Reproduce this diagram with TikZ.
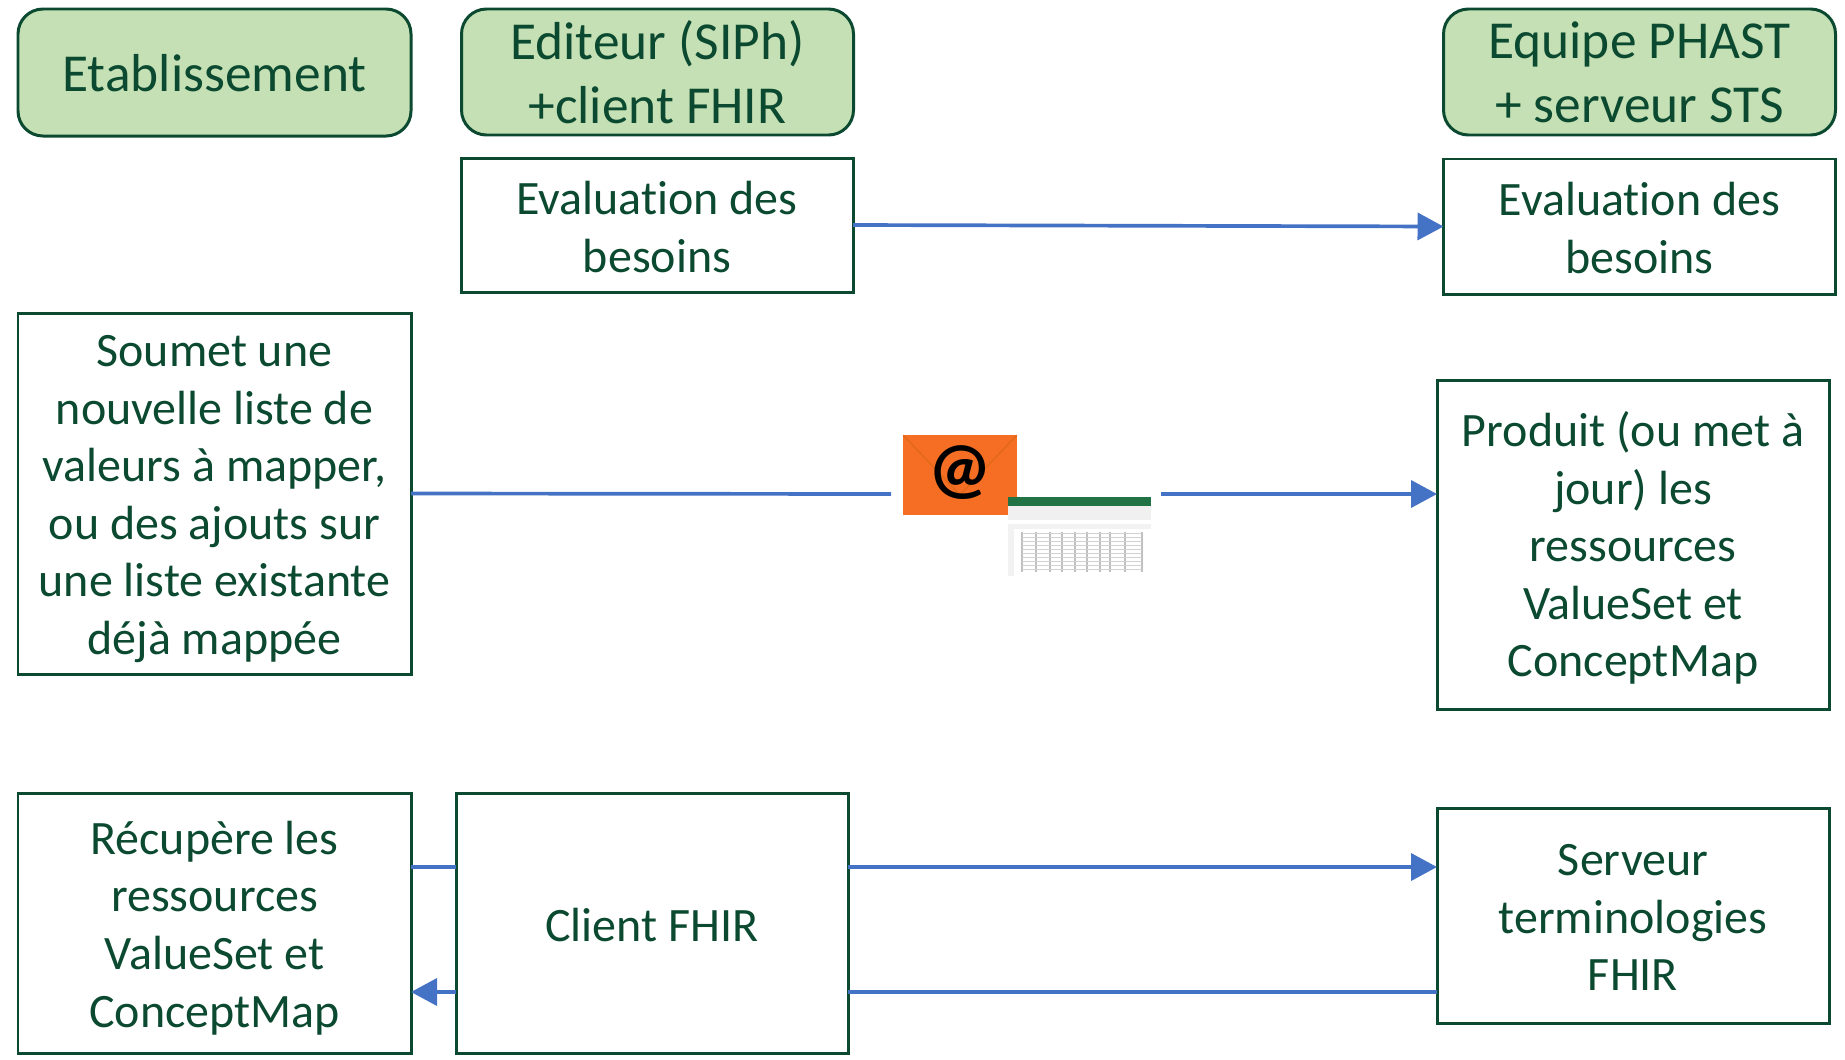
\documentclass[tikz,border=0pt]{standalone}
\usepackage{fontspec}
\setmainfont{Carlito}[Ligatures=NoCommon]
\usetikzlibrary{arrows.meta}
\definecolor{darkgreen}{HTML}{0B4A30}
\definecolor{lightgreen}{HTML}{C5E0B4}
\definecolor{flowblue}{HTML}{4472C4}
\definecolor{mailorange}{HTML}{F56E23}
\definecolor{sheetgreen}{HTML}{217346}
\tikzset{
  box/.style={draw=darkgreen, line width=0.85pt, fill=white, text=darkgreen, align=center, inner sep=0pt, outer sep=0pt,
    font=\fontsize{13.65}{16.4}\selectfont},
  headbox/.style={box, fill=lightgreen, rounded corners=0.25cm, font=\fontsize{15.2}{18.2}\selectfont},
  flow/.style={color=flowblue, line width=1.05pt},
  flowtip/.style={flow, -{Triangle[length=0.26cm,width=0.27cm]}}
}
\newcommand{\lift}[1]{\rule{0pt}{#1}}

\begin{document}
\begin{tikzpicture}
\useasboundingbox (0,0) rectangle (18.45,-10.59);

\node[headbox, minimum width=3.93cm, minimum height=1.27cm] (etab) at (2.145,-0.725) {\lift{10.7pt}Etablissement};
\node[headbox, minimum width=3.92cm, minimum height=1.26cm] (editeur) at (6.575,-0.72) {\lift{10.9pt}Editeur (SIPh)\\+client FHIR};
\node[headbox, minimum width=3.92cm, minimum height=1.26cm] (equipe) at (16.395,-0.72) {\lift{10.7pt}Equipe PHAST\\+ serveur STS};

\node[box, minimum width=3.92cm, minimum height=1.34cm] (evalL) at (6.57,-2.25) {\lift{10.8pt}Evaluation des\\besoins};
\node[box, minimum width=3.92cm, minimum height=1.35cm] (evalR) at (16.395,-2.265) {\lift{10.3pt}Evaluation des\\besoins};

\node[box, minimum width=3.93cm, minimum height=3.61cm] (soumet) at (2.145,-4.935) {\lift{12pt}Soumet une\\nouvelle liste de\\valeurs à mapper,\\ou des ajouts sur\\une liste existante\\déjà mappée};
\node[box, minimum width=3.92cm, minimum height=3.29cm] (produit) at (16.33,-5.45) {\lift{11.7pt}Produit (ou met à\\jour) les\\ressources\\ValueSet et\\ConceptMap};

\node[box, minimum width=3.93cm, minimum height=2.60cm] (recup) at (2.145,-9.23) {\lift{12.3pt}Récupère les\\ressources\\ValueSet et\\ConceptMap};
\node[box, minimum width=3.92cm, minimum height=2.60cm] (client) at (6.52,-9.23) {\lift{10.35pt}Client FHIR};
\node[box, minimum width=3.92cm, minimum height=2.15cm] (serveur) at (16.33,-9.155) {\lift{10pt}Serveur\\terminologies\\FHIR};

\coordinate (gapL) at (8.91,-4.94);
\coordinate (gapR) at (11.61,-4.94);
\coordinate (rowA) at (0,-8.67);
\coordinate (rowB) at (0,-9.92);

% mail icon
\node[fill=mailorange, minimum width=1.14cm, minimum height=0.80cm, inner sep=0pt, outer sep=0pt] (mail) at (9.60,-4.75) {};
\draw[color=orange!75!black, opacity=0.35] (mail.north west) -- (9.60,-4.95) -- (mail.north east);
\node[font=\fontsize{20}{20}\bfseries\selectfont, text=black] (at) at (9.60,-4.73) {@};

% spreadsheet icon
\node[fill=white, minimum width=1.43cm, minimum height=0.79cm, inner sep=0pt, outer sep=0pt] (sheet) at (10.795,-5.365) {};
\fill[color=sheetgreen] (sheet.north west) rectangle ++(1.43,-0.09);
\fill[color=gray!12] (10.08,-5.06) rectangle (11.51,-5.20);
\fill[color=gray!10] (10.08,-5.24) rectangle (11.51,-5.29);
\fill[color=gray!10] (10.08,-5.29) rectangle (10.14,-5.76);
\foreach \x in {10.22,10.36,10.50,10.62,10.75,10.87,11.00,11.10,11.25,11.42}
  \draw[color=gray!50, line width=0.3pt] (\x,-5.32) -- (\x,-5.72);
\foreach \y in {-5.33,-5.37,...,-5.72}
  \draw[color=gray!35, line width=0.25pt] (10.22,\y) -- (11.42,\y);

\draw[flowtip] (evalL.east) -- (evalR.west);
\draw[flow] (soumet.east) -- (gapL);
\draw[flowtip] (gapR) -- (produit.west |- gapR);
\draw[flow] (recup.east |- rowA) -- (client.west |- rowA);
\draw[flowtip] (client.east |- rowA) -- (serveur.west |- rowA);
\draw[flow] (serveur.west |- rowB) -- (client.east |- rowB);
\draw[flowtip] (client.west |- rowB) -- (recup.east |- rowB);

\end{tikzpicture}
\end{document}
